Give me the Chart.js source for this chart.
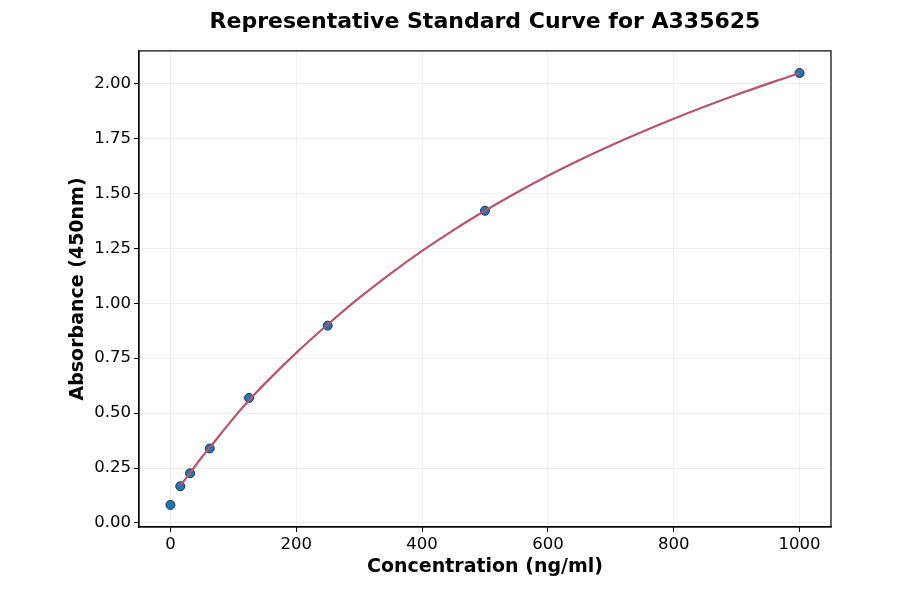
<!DOCTYPE html>
<html lang="en">
<head>
<meta charset="UTF-8">
<title>Representative Standard Curve for A335625</title>
<script src="https://cdn.jsdelivr.net/npm/chart.js"></script>
<style>
    body {
        margin: 0;
        background: #fff;
    }
    #wrap {
        width: 900px;
        height: 594px;
    }
</style>
</head>
<body>
<div id="wrap">
    <canvas id="curveChart" width="900" height="594"></canvas>
</div>

<script>
    // standard points (ng/ml vs OD450)
    const concentrations = [0, 15.625, 31.25, 62.5, 125, 250, 500, 1000];
    const absorbances = [0.082, 0.167, 0.226, 0.339, 0.569, 0.898, 1.421, 2.048];

    // fitted curve
    const curveX = [15.625, 31.25, 50, 62.5, 100, 125, 150, 200, 250, 300, 350, 400, 450, 500, 600, 700, 800, 900, 1000];
    const curveY = [0.170, 0.228, 0.300, 0.343, 0.476, 0.558, 0.634, 0.774, 0.903, 1.024, 1.135, 1.238, 1.333, 1.421, 1.580, 1.718, 1.840, 1.949, 2.048];

    const xTickValues = [0, 200, 400, 600, 800, 1000];
    const yTickValues = [0, 0.25, 0.5, 0.75, 1.0, 1.25, 1.5, 1.75, 2.0];

    const fontFamily = '"DejaVu Sans", Arial, sans-serif';

    const frame = {
        id: 'frame',
        afterDatasetsDraw(chart) {
            const a = chart.chartArea;
            const c = chart.ctx;
            c.save();
            c.strokeStyle = '#000';
            c.lineWidth = 1.2;
            c.strokeRect(a.left, a.top, a.right - a.left, a.bottom - a.top);
            c.restore();
        }
    };

    const ctx = document.getElementById('curveChart').getContext('2d');
    const chart = new Chart(ctx, {
        type: 'scatter',
        data: {
            datasets: [{
                type: 'line',
                label: 'Fit',
                data: curveX.map((x, i) => ({ x: x, y: curveY[i] })),
                borderColor: '#b8546c',
                borderWidth: 2.2,
                pointRadius: 0,
                cubicInterpolationMode: 'monotone',
                fill: false,
                order: 0
            }, {
                label: 'Standards',
                data: concentrations.map((x, i) => ({ x: x, y: absorbances[i] })),
                backgroundColor: '#1f77b4',
                borderColor: '#1b3550',
                borderWidth: 1,
                pointRadius: 4.5,
                order: 1
            }]
        },
        options: {
            responsive: false,
            animation: false,
            layout: {
                padding: { left: 0, right: 69, top: 0, bottom: 0 }
            },
            plugins: {
                legend: { display: false },
                tooltip: { enabled: false },
                title: {
                    display: true,
                    text: 'Representative Standard Curve for A335625',
                    fullSize: false,
                    color: '#000',
                    font: { family: fontFamily, size: 22, weight: 'bold' },
                    padding: { top: 9.5, bottom: 15 }
                }
            },
            scales: {
                x: {
                    type: 'linear',
                    min: -50,
                    max: 1050,
                    afterBuildTicks: s => { s.ticks = xTickValues.map(v => ({ value: v })); },
                    afterFit: s => { s.height = 67; },
                    grid: {
                        color: '#ebebeb',
                        lineWidth: 0.8,
                        tickColor: '#000',
                        tickLength: 5,
                        tickWidth: 1
                    },
                    border: { color: '#000', width: 1.2 },
                    ticks: {
                        color: '#000',
                        padding: 3,
                        maxRotation: 0,
                        font: { family: fontFamily, size: 16.5 },
                        callback: v => String(v)
                    },
                    title: {
                        display: true,
                        text: 'Concentration (ng/ml)',
                        color: '#000',
                        font: { family: fontFamily, size: 19, weight: 'bold' },
                        padding: { top: 4, bottom: 15.5 }
                    }
                },
                y: {
                    type: 'linear',
                    min: -0.0185,
                    max: 2.1485,
                    afterBuildTicks: s => { s.ticks = yTickValues.map(v => ({ value: v })); },
                    afterFit: s => { s.width = 139; },
                    grid: {
                        color: '#ebebeb',
                        lineWidth: 0.8,
                        tickColor: '#000',
                        tickLength: 5,
                        tickWidth: 1
                    },
                    border: { color: '#000', width: 1.2 },
                    ticks: {
                        color: '#000',
                        padding: 3,
                        font: { family: fontFamily, size: 16.5 },
                        callback: v => v.toFixed(2)
                    },
                    title: {
                        display: true,
                        text: 'Absorbance (450nm)',
                        color: '#000',
                        font: { family: fontFamily, size: 19, weight: 'bold' },
                        padding: { top: 67, bottom: 4 }
                    }
                }
            }
        },
        plugins: [frame]
    });
</script>
</body>
</html>
